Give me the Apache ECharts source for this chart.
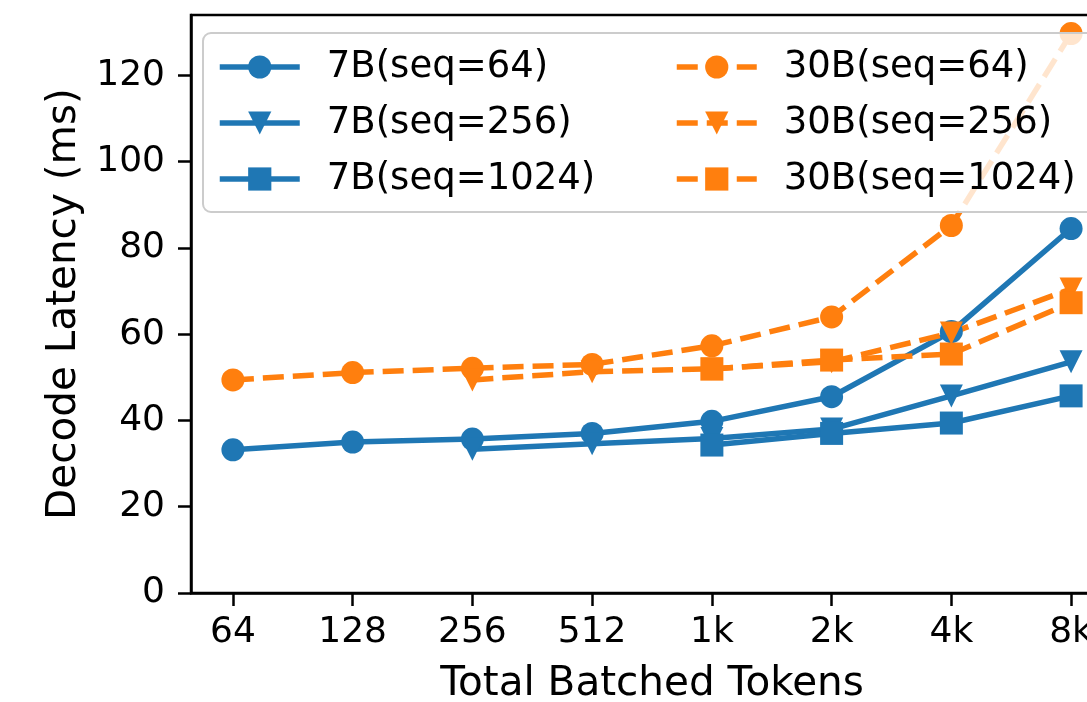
<!DOCTYPE html>
<html>
<head>
<meta charset="utf-8">
<script src="https://cdn.jsdelivr.net/npm/echarts@6/dist/echarts.min.js"></script>
<style>
  html, body { margin: 0; padding: 0; background: #ffffff; }
  #chart { width: 1087px; height: 702px; }
</style>
</head>
<body>
<div id="chart"></div>
<script>
// Total batched tokens (categorical positions 0..7)
const xLabels = ['64', '128', '256', '512', '1k', '2k', '4k', '8k'];
const yTicks = [0, 20, 40, 60, 80, 100, 120];

// Decode latency (ms); null where batch would be < 1 sequence
const lat7b64    = [33.2, 35.0, 35.7, 37.0, 39.8, 45.5, 60.6, 84.5];
const lat7b256   = [null, null, 33.3, 34.6, 35.8, 38.0, 45.7, 53.6];
const lat7b1024  = [null, null, null, null, 34.3, 37.0, 39.4, 45.7];
const lat30b64   = [49.4, 51.1, 52.1, 53.0, 57.3, 64.0, 85.2, 129.7];
const lat30b256  = [null, null, 49.4, 51.3, 52.0, 53.6, 60.3, 70.5];
const lat30b1024 = [null, null, null, null, 51.9, 54.0, 55.4, 67.3];

const BLUE = '#1f77b4';
const ORANGE = '#ff7f0e';
const FONT = 'DejaVu Sans';
const LINE_W = 5.5;

function pairs(arr) {
  return arr.map((v, i) => (v == null ? null : [i, v])).filter(Boolean);
}

function makeSeries(name, arr, color, symbol, dashed) {
  return {
    name: name,
    type: 'line',
    data: pairs(arr),
    symbol: symbol,
    symbolSize: 23,
    symbolRotate: symbol === 'triangle' ? 180 : 0,
    showSymbol: true,
    showAllSymbol: true,
    lineStyle: { color: color, width: LINE_W, type: dashed ? [21, 9] : 'solid', cap: 'butt' },
    itemStyle: { color: color, borderWidth: 0 },
    emphasis: { disabled: true },
    z: 2
  };
}

const chart = echarts.init(document.getElementById('chart'), null, { renderer: 'canvas' });

const legendCommon = {
  orient: 'vertical',
  top: 48.5,
  itemWidth: 80,
  itemHeight: 29,
  itemGap: 19,
  padding: 0,
  selectedMode: false,
  z: 5,
  lineStyle: { width: LINE_W },
  textStyle: { fontSize: 37, lineHeight: 29, color: '#000', fontFamily: FONT, padding: [0, 0, 0, 22] }
};

chart.setOption({
  animation: false,
  backgroundColor: '#ffffff',
  textStyle: { fontFamily: FONT },
  grid: {
    left: 191, top: 15, width: 922, height: 578,
    outerBoundsMode: 'none',
    containLabel: false,
    show: true, borderColor: '#000', borderWidth: 2.5, backgroundColor: 'transparent'
  },
  xAxis: {
    type: 'value',
    min: -0.35,
    max: 7.35,
    name: 'Total Batched Tokens',
    nameLocation: 'middle',
    nameGap: 71,
    nameTextStyle: { fontSize: 40.5, color: '#000', fontFamily: FONT },
    axisLine: { show: true, onZero: false, lineStyle: { color: '#000', width: 2.5 } },
    axisTick: { show: true, customValues: xLabels.map((_, i) => i), length: 13, lineStyle: { color: '#000', width: 2.5 } },
    axisLabel: {
      customValues: xLabels.map((_, i) => i),
      formatter: v => xLabels[Math.round(v)],
      fontSize: 36, color: '#000', margin: 22, fontFamily: FONT
    },
    splitLine: { show: false }
  },
  yAxis: {
    type: 'value',
    min: 0,
    max: 134,
    name: 'Decode Latency (ms)',
    nameLocation: 'middle',
    nameGap: 97,
    nameTextStyle: { fontSize: 40.5, color: '#000', fontFamily: FONT },
    axisLine: { show: true, onZero: false, lineStyle: { color: '#000', width: 2.5 } },
    axisTick: { show: true, customValues: yTicks, length: 13, lineStyle: { color: '#000', width: 2.5 } },
    axisLabel: { customValues: yTicks, fontSize: 36, color: '#000', margin: 26, fontFamily: FONT },
    splitLine: { show: false }
  },
  legend: [
    Object.assign({ left: 217, data: ['7B(seq=64)', '7B(seq=256)', '7B(seq=1024)'] }, legendCommon),
    Object.assign({ left: 674, data: ['30B(seq=64)', '30B(seq=256)', '30B(seq=1024)'] }, legendCommon)
  ],
  graphic: [{
    type: 'rect',
    z: 3,
    shape: { x: 203, y: 33, width: 940, height: 179, r: 8 },
    style: { fill: 'rgba(255,255,255,0.8)', stroke: '#cccccc', lineWidth: 2 }
  }],
  series: [
    makeSeries('7B(seq=64)', lat7b64, BLUE, 'circle', false),
    makeSeries('7B(seq=256)', lat7b256, BLUE, 'triangle', false),
    makeSeries('7B(seq=1024)', lat7b1024, BLUE, 'rect', false),
    makeSeries('30B(seq=64)', lat30b64, ORANGE, 'circle', true),
    makeSeries('30B(seq=256)', lat30b256, ORANGE, 'triangle', true),
    makeSeries('30B(seq=1024)', lat30b1024, ORANGE, 'rect', true)
  ]
});
</script>
</body>
</html>
